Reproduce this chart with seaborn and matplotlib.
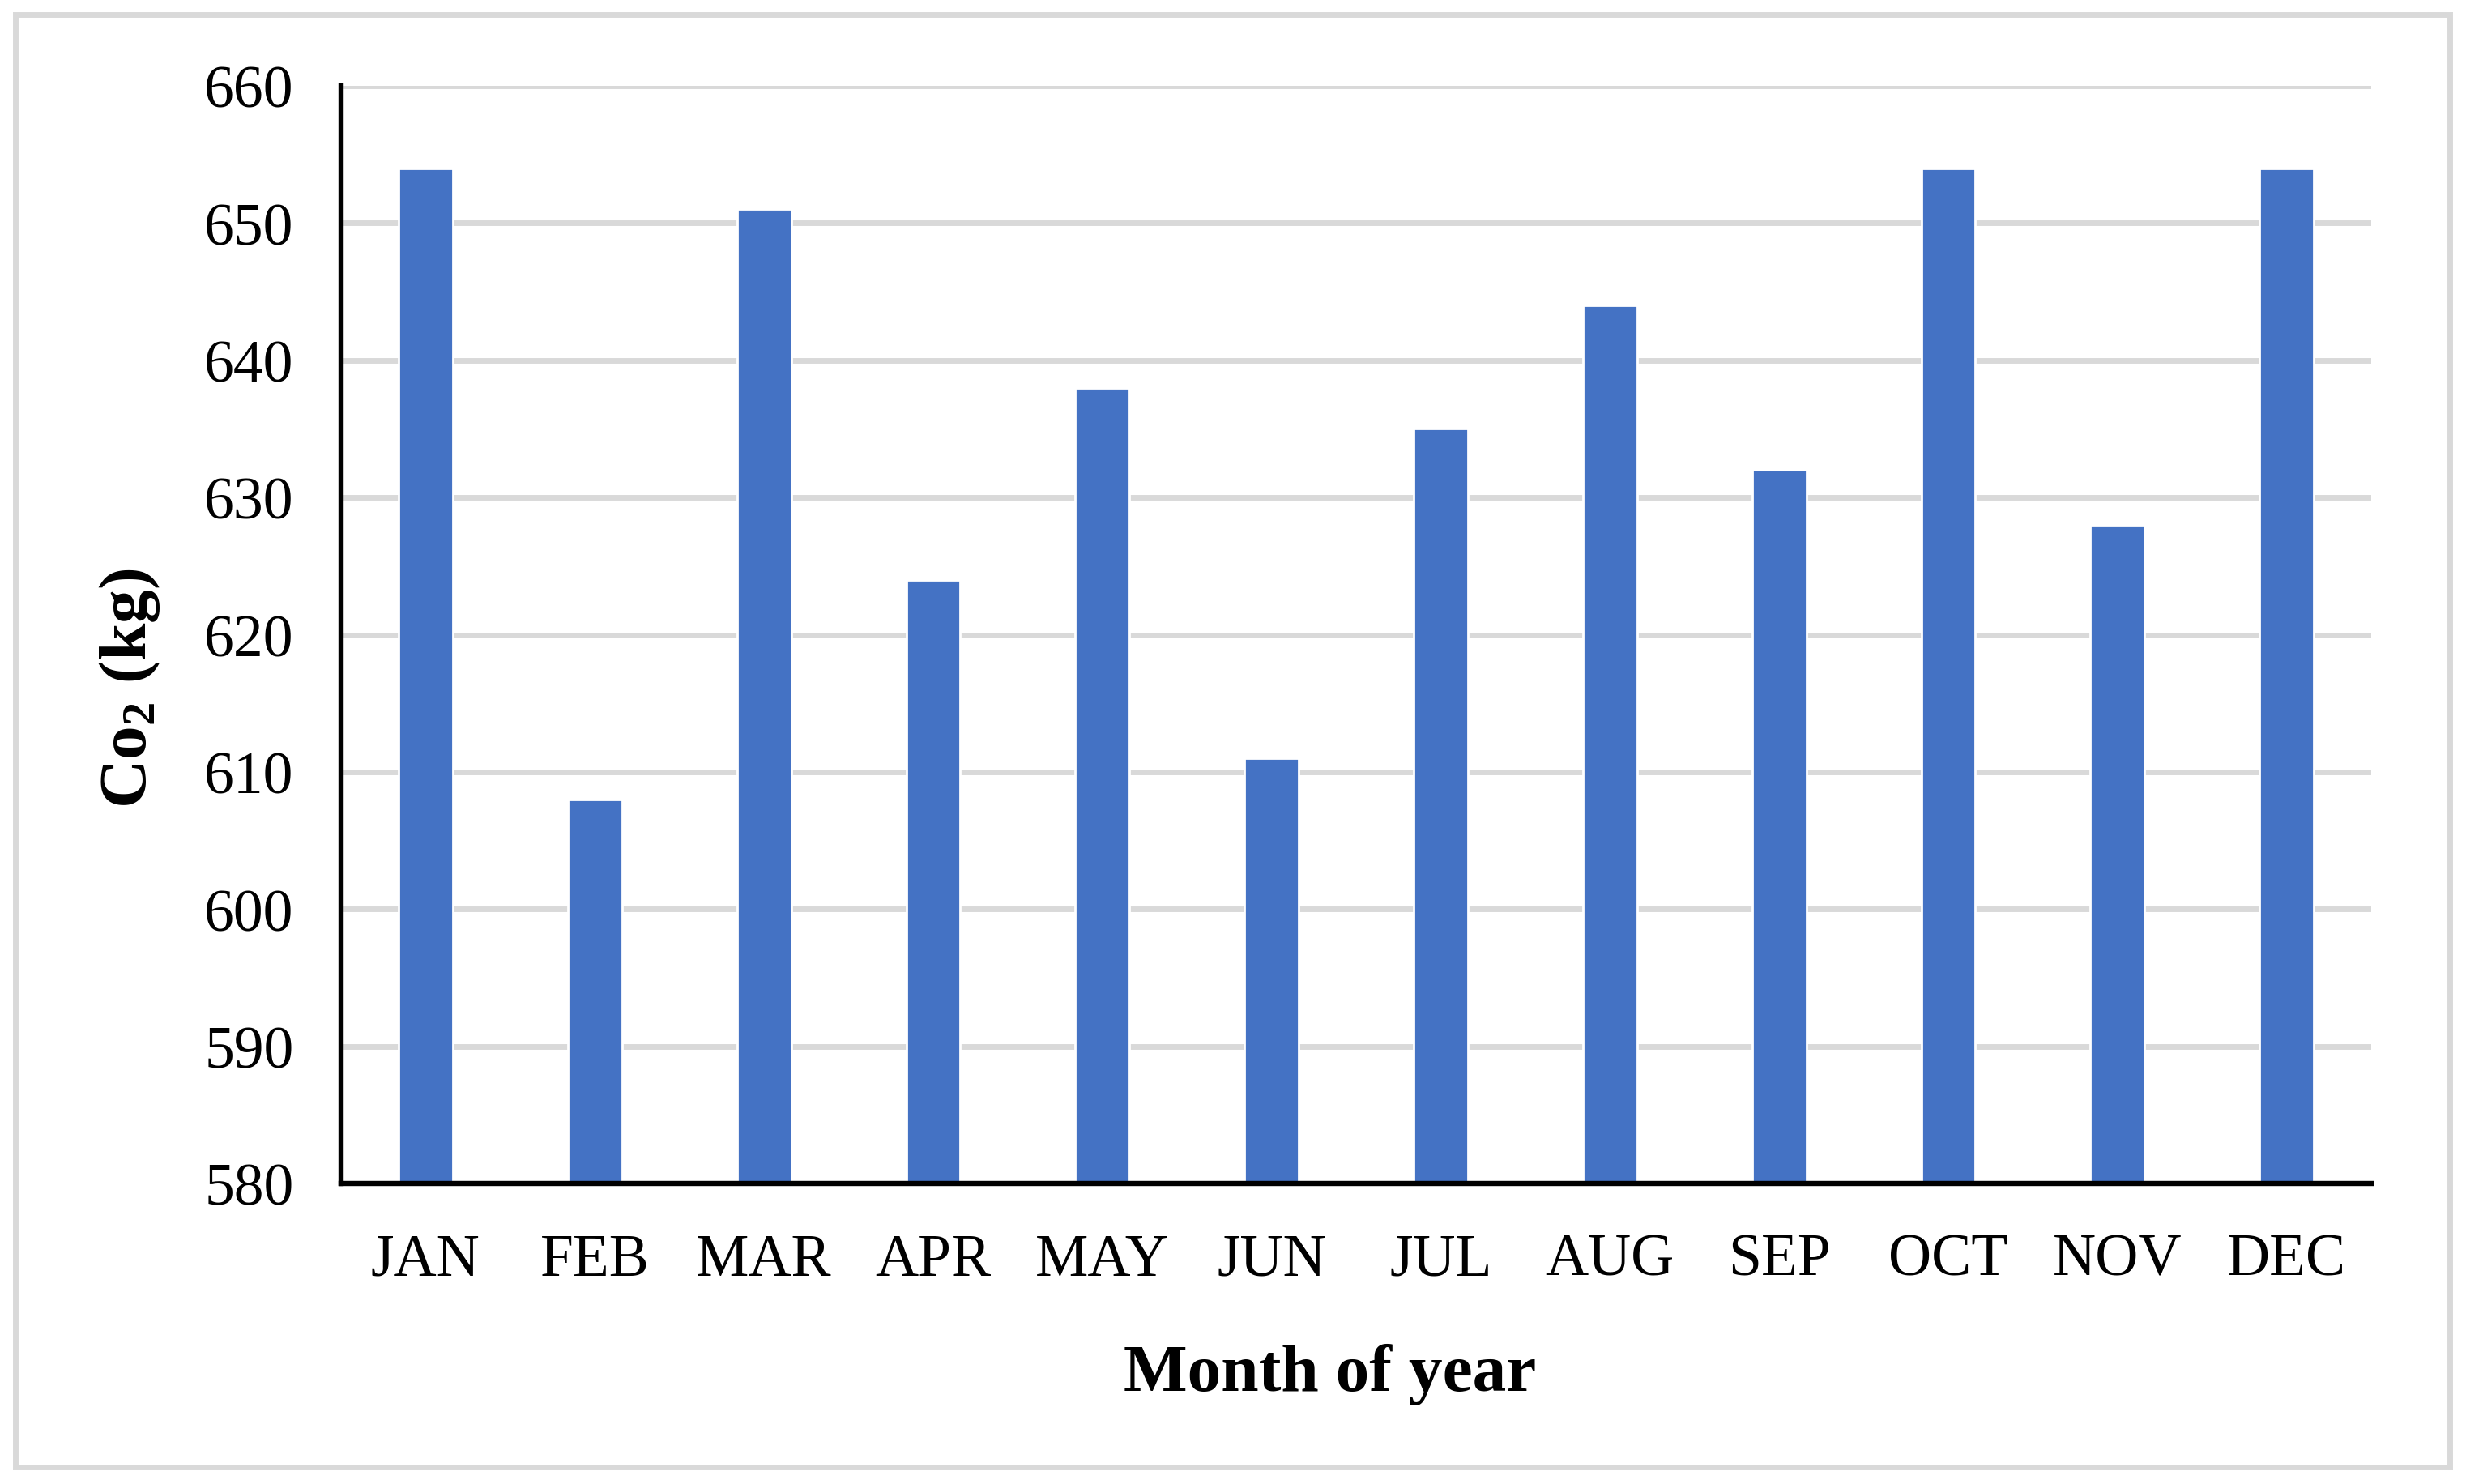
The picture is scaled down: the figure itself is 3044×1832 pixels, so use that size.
import matplotlib
matplotlib.use("Agg")
import matplotlib.pyplot as plt
import seaborn as sns
import pandas as pd
from matplotlib.patches import Rectangle

# data
months = ['JAN', 'FEB', 'MAR', 'APR', 'MAY', 'JUN', 'JUL', 'AUG', 'SEP', 'OCT', 'NOV', 'DEC']
co2_kg = [654, 608, 651, 624, 638, 611, 635, 644, 632, 654, 628, 654]
y_ticks = [580, 590, 600, 610, 620, 630, 640, 650, 660]

df = pd.DataFrame({'Month': months, 'CO2': co2_kg})

sns.set_style('white')
plt.rcParams['font.family'] = ['Liberation Serif', 'DejaVu Serif']
plt.rcParams['text.color'] = 'black'
plt.rcParams['axes.labelcolor'] = 'black'
plt.rcParams['mathtext.fontset'] = 'custom'
plt.rcParams['mathtext.rm'] = 'Liberation Serif:bold'
plt.rcParams['mathtext.bf'] = 'Liberation Serif:bold'
plt.rcParams['mathtext.it'] = 'Liberation Serif:bold:italic'

fig = plt.figure(figsize=(15.22, 9.165), dpi=200)
ax = fig.add_axes([0.1383, 0.2024, 0.8233, 0.7392])

sns.barplot(data=df, x='Month', y='CO2', color='#4472C4', width=0.32,
            saturation=1, ax=ax, zorder=3)

ax.set_ylim(580, 660)
ax.set_yticks(y_ticks)
ax.yaxis.grid(True, color='#d9d9d9', linewidth=2.5, zorder=0)
ax.set_axisbelow(True)

for s in ['top', 'right']:
    ax.spines[s].set_visible(False)
for s in ['left', 'bottom']:
    ax.spines[s].set_color('black')
    ax.spines[s].set_linewidth(2.3)
    ax.spines[s].set_zorder(4)

ax.tick_params(axis='y', length=0, pad=21, labelsize=26.5, colors='black')
ax.tick_params(axis='x', length=0, pad=22, labelsize=26.5, colors='black')

ax.set_xlabel('Month of year', fontsize=30, fontweight='bold', color='black')
ax.set_ylabel(r'Co$_\mathrm{2}$ (kg)', fontsize=30, fontweight='bold', color='black')
ax.xaxis.set_label_coords(0.487, -0.145)
ax.yaxis.set_label_coords(-0.088, 0.452)

# light grey frame around the whole chart
fig.add_artist(Rectangle((19 / 3044, 1 - 1812 / 1833), (3024 - 19) / 3044, (1812 - 19) / 1833,
                         transform=fig.transFigure, fill=False,
                         edgecolor='#d9d9d9', linewidth=2.5))

fig.savefig('out.png', dpi=200, facecolor='white')
